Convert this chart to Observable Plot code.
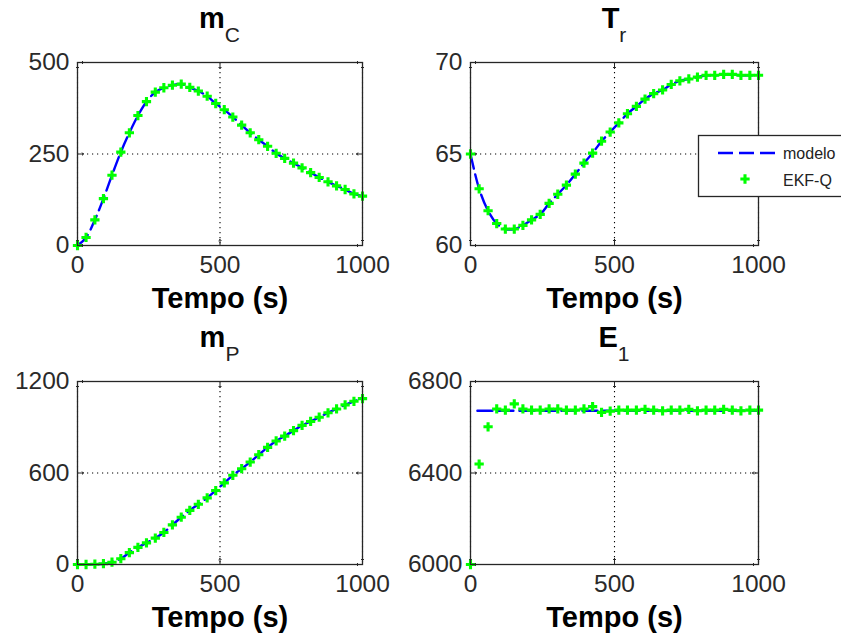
<!DOCTYPE html>
<html>
<head>
<meta charset="utf-8">
<script src="https://cdn.jsdelivr.net/npm/d3@7"></script>
<script src="https://cdn.jsdelivr.net/npm/@observablehq/plot@0.6"></script>
<style>
  body { margin: 0; background: #fff; }
  #wrap { position: relative; width: 841px; height: 636px; overflow: hidden; background: #fff;
          font-family: "Liberation Sans", Arial, Helvetica, sans-serif; }
  #wrap > svg { position: absolute; overflow: visible; }
</style>
</head>
<body>
<div id="wrap"></div>
<script>
// ---- Data ----
const time = [0, 30, 61, 91, 121, 152, 182, 212, 242, 273, 303, 333, 364, 394, 424, 455, 485,
              515, 545, 576, 606, 636, 667, 697, 727, 758, 788, 818, 848, 879, 909, 939, 970, 1000];

const mcEkf = [0, 22, 70, 128, 192, 255, 308, 355, 393, 419, 431, 438, 441, 432, 422, 408, 388,
               371, 351, 329, 308, 289, 271, 252, 238, 225, 212, 199, 186, 174, 163, 153, 141, 135];
const mcModel = mcEkf;

const trEkf = [65.0, 63.1, 61.9, 61.2, 60.9, 60.9, 61.1, 61.4, 61.7, 62.3, 62.8, 63.3, 63.9, 64.5, 65.05, 65.7, 66.2,
               66.7, 67.2, 67.6, 68.0, 68.3, 68.5, 68.8, 69.0, 69.1, 69.2, 69.3, 69.3, 69.35, 69.35, 69.3, 69.3, 69.3];
const trModel = trEkf;

const mpEkf = [0, 0, 2, 5, 15, 38, 78, 112, 142, 173, 210, 260, 310, 355, 395, 437, 485,
               535, 585, 628, 672, 720, 768, 810, 842, 878, 912, 938, 966, 995, 1020, 1047, 1070, 1088];
const mpModel = mpEkf;

const e1Ekf = [6000, 6439, 6602, 6680, 6675, 6702, 6680, 6675, 6675, 6680, 6680, 6675, 6675, 6680, 6690, 6665, 6670,
               6675, 6675, 6675, 6678, 6675, 6672, 6675, 6675, 6678, 6672, 6675, 6675, 6678, 6675, 6672, 6675, 6675];
const e1ModelTime = [24, 1000];
const e1Model = [6672, 6672];

const xTicks = [0, 500, 1000];
const mcTicks = [0, 250, 500];
const trTicks = [60, 65, 70];
const mpTicks = [0, 600, 1200];
const e1Ticks = [6000, 6400, 6800];

const xLabel = "Tempo (s)";
const legendLabels = ["modelo", "EKF-Q"];

// ---- Style ----
const BLUE = "#0000ff", GREEN = "#00ff00", FRAME = "#262626";
const FONT = "'Liberation Sans', Arial, Helvetica, sans-serif";
const fmt = d => String(d);

const panels = [
  {main: "m", sub: "C", t: time, y: mcEkf, tm: time, ym: mcModel, ticks: mcTicks,
   left: 0, top: 0, width: 420, height: 318, ml: 77, mr: 58, mt: 62, mb: 73},
  {main: "T", sub: "r", t: time, y: trEkf, tm: time, ym: trModel, ticks: trTicks,
   left: 420, top: 0, width: 421, height: 318, ml: 50, mr: 83, mt: 62, mb: 73, legend: true},
  {main: "m", sub: "P", t: time, y: mpEkf, tm: time, ym: mpModel, ticks: mpTicks,
   left: 0, top: 318, width: 420, height: 318, ml: 77, mr: 58, mt: 63, mb: 72},
  {main: "E", sub: "1", t: time, y: e1Ekf, tm: e1ModelTime, ym: e1Model, ticks: e1Ticks,
   left: 420, top: 318, width: 421, height: 318, ml: 50, mr: 83, mt: 63, mb: 72}
];

const wrap = document.getElementById("wrap");
const tickText = {fontSize: 24.5, fill: "#2a2a2a", stroke: "#fff", strokeWidth: 0.7, paintOrder: "normal", tickFormat: fmt};

for (const p of panels) {
  const ekf = p.t.map((t, i) => ({t, v: p.y[i]}));
  const model = p.tm.map((t, i) => ({t, v: p.ym[i]}));
  const yDomain = [p.ticks[0], p.ticks[p.ticks.length - 1]];
  const svg = Plot.plot({
    width: p.width, height: p.height,
    marginLeft: p.ml, marginRight: p.mr, marginTop: p.mt, marginBottom: p.mb,
    style: {fontFamily: FONT, background: "transparent", color: "#333", overflow: "visible"},
    x: {domain: [0, 1000], ticks: xTicks, label: null},
    y: {domain: yDomain, ticks: p.ticks, label: null},
    marks: [
      Plot.gridX(xTicks, {stroke: "#000", strokeOpacity: 1, strokeWidth: 1.1, strokeDasharray: "1.2,3.8"}),
      Plot.gridY(p.ticks, {stroke: "#000", strokeOpacity: 1, strokeWidth: 1.1, strokeDasharray: "1.2,3.8"}),
      Plot.vector(xTicks, {x: d => d, frameAnchor: "bottom", length: 6, rotate: 0, anchor: "start", stroke: FRAME, strokeWidth: 1}),
      Plot.vector(xTicks, {x: d => d, frameAnchor: "top", length: 6, rotate: 180, anchor: "start", stroke: FRAME, strokeWidth: 1}),
      Plot.vector(p.ticks, {y: d => d, frameAnchor: "left", length: 6, rotate: 90, anchor: "start", stroke: FRAME, strokeWidth: 1}),
      Plot.vector(p.ticks, {y: d => d, frameAnchor: "right", length: 6, rotate: -90, anchor: "start", stroke: FRAME, strokeWidth: 1}),
      Plot.axisX(xTicks, {tickSize: 0, tickPadding: 10, ...tickText}),
      Plot.axisY(p.ticks, {tickSize: 0, tickPadding: 8, ...tickText}),
      Plot.line(model, {x: "t", y: "v", stroke: BLUE, strokeWidth: 2.4, strokeDasharray: "15,6", curve: "catmull-rom"}),
      Plot.dot(ekf, {x: "t", y: "v", symbol: "cross", fill: GREEN, stroke: "none", r: 3.9}),
      Plot.frame({stroke: FRAME, strokeWidth: 1.3}),
      Plot.text([xLabel], {frameAnchor: "bottom", dy: 62, lineAnchor: "bottom", fontSize: 29, fontWeight: "bold", fill: "#000"})
    ]
  });
  svg.style.left = p.left + "px";
  svg.style.top = p.top + "px";

  const s = d3.select(svg);
  const cx = p.ml + (p.width - p.ml - p.mr) / 2;
  const title = s.append("text")
    .attr("x", cx).attr("y", 28 + (p.mt - 62))
    .attr("text-anchor", "middle")
    .attr("font-family", FONT)
    .attr("fill", "#000");
  title.append("tspan").attr("font-size", 29).attr("font-weight", "bold").text(p.main);
  title.append("tspan").attr("font-size", 21).attr("font-weight", "normal").attr("fill", "#222").attr("dy", 14).text(p.sub);

  if (p.legend) {
    const lx = 698 - p.left, ly = 135 - p.top;
    const g = s.append("g").attr("text-anchor", "start");
    g.append("rect").attr("x", lx + 0.5).attr("y", ly + 0.5).attr("width", 160).attr("height", 61)
      .attr("fill", "#fff").attr("stroke", FRAME).attr("stroke-width", 1.3);
    g.append("line").attr("x1", lx + 20).attr("x2", lx + 80).attr("y1", ly + 18).attr("y2", ly + 18)
      .attr("stroke", BLUE).attr("stroke-width", 2.6).attr("stroke-dasharray", "15,6");
    g.append("text").attr("x", lx + 85).attr("y", ly + 18).attr("dy", "0.35em").attr("text-anchor", "start")
      .attr("font-family", FONT).attr("font-size", 16).attr("fill", "#222").text(legendLabels[0]);
    g.append("path").attr("transform", `translate(${lx + 47},${ly + 44})`)
      .attr("d", d3.symbol(d3.symbolCross, Math.PI * 3.9 * 3.9)()).attr("fill", GREEN);
    g.append("text").attr("x", lx + 85).attr("y", ly + 45).attr("dy", "0.35em").attr("text-anchor", "start")
      .attr("font-family", FONT).attr("font-size", 16).attr("fill", "#222").text(legendLabels[1]);
  }

  wrap.appendChild(svg);
}
</script>
</body>
</html>
